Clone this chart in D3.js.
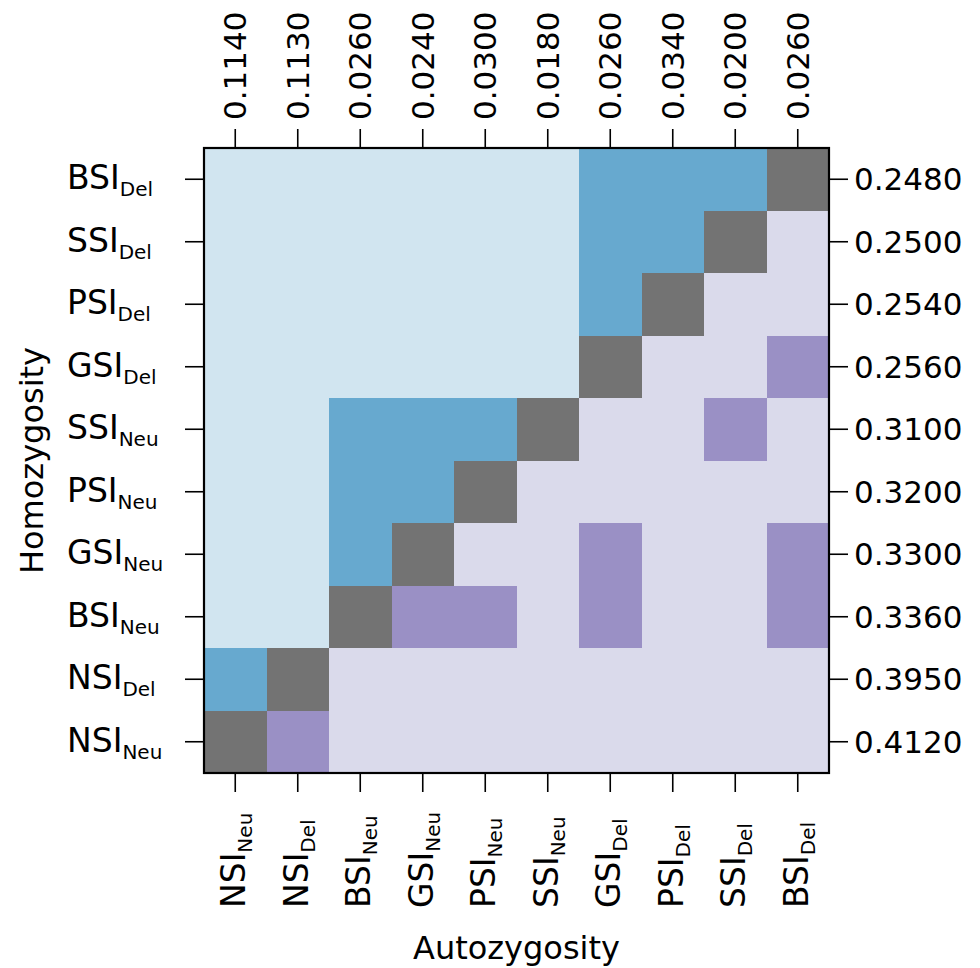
<!DOCTYPE html>
<html>
<head>
<meta charset="utf-8">
<script src="https://cdn.jsdelivr.net/npm/d3@7"></script>
<style>
  body { margin: 0; background: #fff; }
  text { font-family: "DejaVu Sans", Verdana, sans-serif; fill: #000; }
</style>
</head>
<body>
<div id="chart"></div>
<script>
// categories in plot order (left to right, bottom to top)
const indices = ["NSI", "NSI", "BSI", "GSI", "PSI", "SSI", "GSI", "PSI", "SSI", "BSI"];
const types = ["Neu", "Del", "Neu", "Neu", "Neu", "Neu", "Del", "Del", "Del", "Del"];
const autozygosity = ["0.1140", "0.1130", "0.0260", "0.0240", "0.0300", "0.0180", "0.0260", "0.0340", "0.0200", "0.0260"];
const homozygosity = ["0.4120", "0.3950", "0.3360", "0.3300", "0.3200", "0.3100", "0.2560", "0.2540", "0.2500", "0.2480"];

// significance per row (bottom to top), one entry per column
const significant = [
  [0, 1, 0, 0, 0, 0, 0, 0, 0, 0],
  [1, 0, 0, 0, 0, 0, 0, 0, 0, 0],
  [0, 0, 0, 1, 1, 0, 1, 0, 0, 1],
  [0, 0, 1, 0, 0, 0, 1, 0, 0, 1],
  [0, 0, 1, 1, 0, 0, 0, 0, 0, 0],
  [0, 0, 1, 1, 1, 0, 0, 0, 1, 0],
  [0, 0, 0, 0, 0, 0, 0, 0, 0, 1],
  [0, 0, 0, 0, 0, 0, 1, 0, 0, 0],
  [0, 0, 0, 0, 0, 0, 1, 1, 0, 0],
  [0, 0, 0, 0, 0, 0, 1, 1, 1, 0]
];

const width = 980,
  height = 968;
const plotLeft = 204, plotRight = 829, plotTop = 148, plotBottom = 773;

const keys = indices.map((d, i) => d + "_" + types[i]);

const x = d3.scaleBand().domain(keys).range([plotLeft, plotRight]);
const y = d3.scaleBand().domain(keys).range([plotBottom, plotTop]);

const svg = d3
  .select("#chart")
  .append("svg")
  .attr("width", width)
  .attr("height", height);

/* CELLS */
const cells = [];
significant.forEach((row, j) => {
  row.forEach((s, i) => cells.push({ row: j, col: i, sig: s }));
});

function cellColor(d) {
  if (d.row === d.col) return "#737373";
  if (d.row > d.col) return d.sig ? "#67a9cf" : "#d1e5f0";
  return d.sig ? "#9a90c5" : "#dadaeb";
}

svg.append("g")
  .selectAll("rect")
  .data(cells)
  .enter()
  .append("rect")
  .attr("x", (d) => x(keys[d.col]))
  .attr("y", (d) => y(keys[d.row]))
  .attr("width", x.bandwidth())
  .attr("height", y.bandwidth())
  .attr("fill", cellColor)
  .attr("shape-rendering", "crispEdges");

/* AXES */
function styleAxis(g) {
  g.select(".domain").remove();
  g.selectAll(".tick line").attr("stroke", "#000").attr("stroke-width", 1.6);
}

const bottomAxis = svg.append("g")
  .attr("transform", `translate(0,${plotBottom})`)
  .call(d3.axisBottom(x).tickSize(19).tickFormat(""))
  .call(styleAxis);

bottomAxis.selectAll(".tick text").remove();
bottomAxis.selectAll(".tick")
  .append("text")
  .attr("transform", "translate(10,135) rotate(-90)")
  .attr("text-anchor", "start")
  .each(function (d, i) {
    const t = d3.select(this);
    t.append("tspan").attr("font-size", 33).text(indices[i]);
    t.append("tspan").attr("font-size", 20).attr("dy", 7).text(types[i]);
  });

const leftAxis = svg.append("g")
  .attr("transform", `translate(${plotLeft},0)`)
  .call(d3.axisLeft(y).tickSize(19).tickFormat(""))
  .call(styleAxis);

leftAxis.selectAll(".tick text").remove();
leftAxis.selectAll(".tick")
  .append("text")
  .attr("x", 67 - plotLeft)
  .attr("y", 10)
  .attr("text-anchor", "start")
  .each(function (d, i) {
    const t = d3.select(this);
    t.append("tspan").attr("font-size", 33).text(indices[i]);
    t.append("tspan").attr("font-size", 20).attr("dy", 7).text(types[i]);
  });

svg.append("g")
  .attr("transform", `translate(0,${plotTop})`)
  .call(d3.axisTop(x).tickSize(19).tickFormat((d, i) => autozygosity[i]))
  .call(styleAxis)
  .selectAll(".tick text")
  .attr("font-size", 31)
  .attr("text-anchor", "start")
  .attr("transform", "rotate(-90)")
  .attr("x", 28)
  .attr("y", 11)
  .attr("dy", null);

svg.append("g")
  .attr("transform", `translate(${plotRight},0)`)
  .call(d3.axisRight(y).tickSize(19).tickFormat((d, i) => homozygosity[i]))
  .call(styleAxis)
  .selectAll(".tick text")
  .attr("font-size", 31)
  .attr("x", 25)
  .attr("dy", "0.36em");

/* FRAME */
svg.append("rect")
  .attr("x", plotLeft)
  .attr("y", plotTop)
  .attr("width", plotRight - plotLeft)
  .attr("height", plotBottom - plotTop)
  .attr("fill", "none")
  .attr("stroke", "#000")
  .attr("stroke-width", 2.2);

/* TITLES */
svg.append("text")
  .attr("x", (plotLeft + plotRight) / 2)
  .attr("y", 959)
  .attr("text-anchor", "middle")
  .attr("font-size", 32)
  .text("Autozygosity");

svg.append("text")
  .attr("transform", `translate(43,${(plotTop + plotBottom) / 2}) rotate(-90)`)
  .attr("text-anchor", "middle")
  .attr("font-size", 32)
  .text("Homozygosity");
</script>
</body>
</html>
